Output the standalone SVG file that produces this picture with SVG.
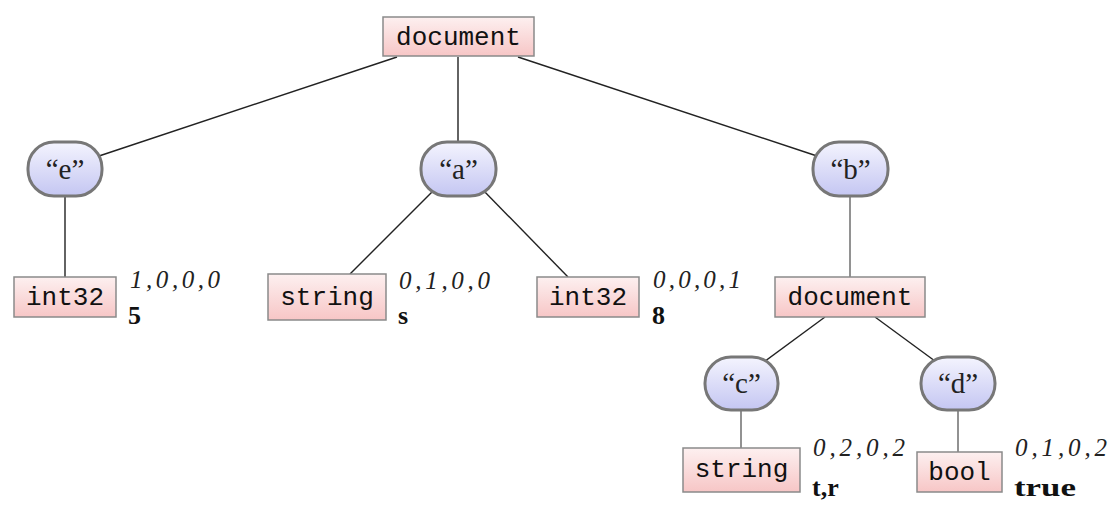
<svg xmlns="http://www.w3.org/2000/svg" width="1118" height="530" viewBox="0 0 1118 530">
<defs>
<linearGradient id="pink" x1="0" y1="0" x2="0" y2="1">
<stop offset="0" stop-color="#fdf0f0"/>
<stop offset="1" stop-color="#f7c6c6"/>
</linearGradient>
<linearGradient id="blue" x1="0" y1="0" x2="0" y2="1">
<stop offset="0" stop-color="#f4f4fe"/>
<stop offset="1" stop-color="#c4c6f2"/>
</linearGradient>
</defs>
<style>
.box{fill:url(#pink);stroke:#8a8a8a;stroke-width:1.5}
.key{fill:url(#blue);stroke:#777;stroke-width:3}
.mono{font-family:"Liberation Mono",monospace;font-size:26px;fill:#111;text-anchor:middle}
.q{font-family:"Liberation Serif",serif;font-size:29px;fill:#222;text-anchor:middle}
.num{font-family:"Liberation Serif",serif;font-style:italic;font-size:25px;fill:#222}
.val{font-family:"Liberation Serif",serif;font-weight:bold;font-size:26px;fill:#111}
.edge{stroke:#222;stroke-width:1.4;fill:none}
.edgeg{stroke:#777;stroke-width:1.6;fill:none}
</style>
<g id="connectors">
<line class="edge" x1="397" y1="57" x2="99" y2="156"/>
<line class="edge" x1="458" y1="57" x2="458" y2="142"/>
<line class="edge" x1="518" y1="57" x2="817" y2="156"/>
<line class="edge" x1="65" y1="196" x2="65" y2="277"/>
<line class="edge" x1="435" y1="189" x2="350" y2="274"/>
<line class="edge" x1="482" y1="189" x2="568" y2="277"/>
<line class="edgeg" x1="850" y1="196" x2="850" y2="277"/>
<line class="edge" x1="825" y1="317" x2="761" y2="364"/>
<line class="edge" x1="875" y1="317" x2="939" y2="364"/>
<line class="edgeg" x1="741" y1="410" x2="741" y2="448"/>
<line class="edgeg" x1="958" y1="410" x2="958" y2="452"/>
</g>
<g id="root">
<rect class="box" x="383" y="17" width="151" height="39"/>
<text class="mono" x="458.5" y="45">document</text>
</g>
<g id="key-e">
<rect class="key" x="28" y="142" width="74" height="54" rx="26" ry="26"/>
<text class="q" x="65" y="179">“e”</text>
</g>
<g id="key-a">
<rect class="key" x="421" y="142" width="75" height="54" rx="26" ry="26"/>
<text class="q" x="458.5" y="179">“a”</text>
</g>
<g id="key-b">
<rect class="key" x="813" y="142" width="75" height="54" rx="26" ry="26"/>
<text class="q" x="850.5" y="179">“b”</text>
</g>
<g id="int32-e">
<rect class="box" x="14" y="277" width="102" height="40"/>
<text class="mono" x="65" y="305">int32</text>
<text class="num" x="130" y="288" textLength="90" lengthAdjust="spacing">1,0,0,0</text>
<text class="val" x="128" y="324">5</text>
</g>
<g id="string-a">
<rect class="box" x="268" y="274" width="118" height="46"/>
<text class="mono" x="327" y="305">string</text>
<text class="num" x="399" y="289" textLength="91" lengthAdjust="spacing">0,1,0,0</text>
<text class="val" x="398" y="324">s</text>
</g>
<g id="int32-a">
<rect class="box" x="537" y="277" width="102" height="40"/>
<text class="mono" x="588" y="305">int32</text>
<text class="num" x="653" y="288" textLength="88" lengthAdjust="spacing">0,0,0,1</text>
<text class="val" x="652" y="324">8</text>
</g>
<g id="document-b">
<rect class="box" x="775" y="277" width="150" height="40"/>
<text class="mono" x="850" y="305">document</text>
</g>
<g id="key-c">
<rect class="key" x="705" y="357" width="73" height="53" rx="26" ry="26"/>
<text class="q" x="741.5" y="393">“c”</text>
</g>
<g id="key-d">
<rect class="key" x="921" y="357" width="74" height="53" rx="26" ry="26"/>
<text class="q" x="958" y="393">“d”</text>
</g>
<g id="string-c">
<rect class="box" x="683" y="448" width="117" height="44"/>
<text class="mono" x="741.5" y="477">string</text>
<text class="num" x="813" y="456" textLength="92" lengthAdjust="spacing">0,2,0,2</text>
<text class="val" x="812" y="496">t,r</text>
</g>
<g id="bool-d">
<rect class="box" x="917" y="452" width="85" height="40"/>
<text class="mono" x="959.5" y="480">bool</text>
<text class="num" x="1015" y="456" textLength="92" lengthAdjust="spacing">0,1,0,2</text>
<text class="val" x="1014" y="496" textLength="62" lengthAdjust="spacingAndGlyphs">true</text>
</g>
</svg>
